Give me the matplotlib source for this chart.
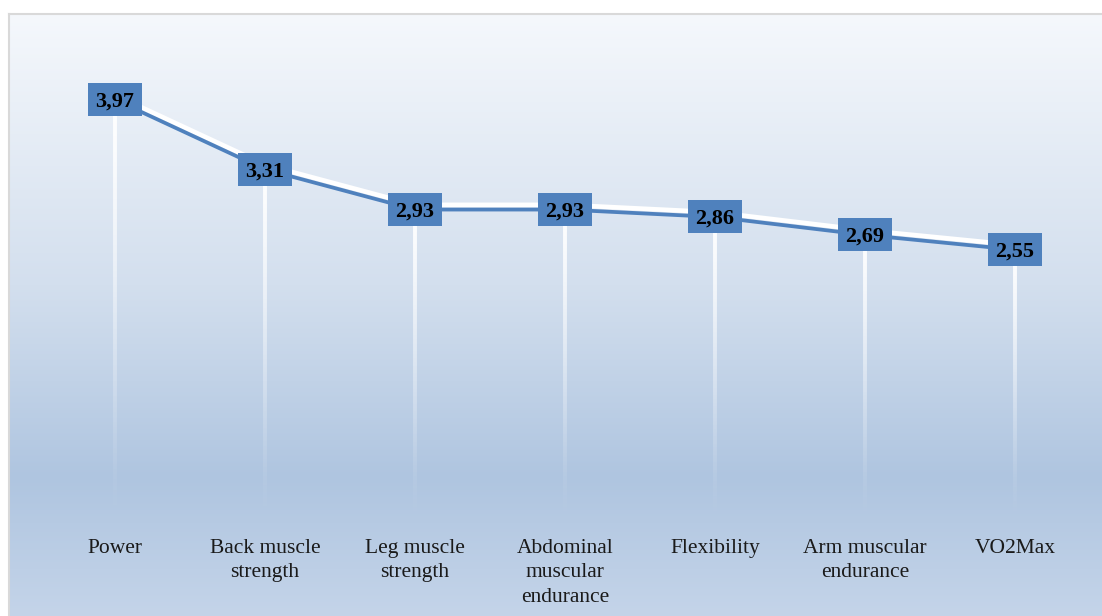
import numpy as np
import matplotlib
matplotlib.use("Agg")
import matplotlib.pyplot as plt
from matplotlib.colors import LinearSegmentedColormap
from matplotlib.collections import LineCollection
from matplotlib.patches import Rectangle
from matplotlib import transforms

# fitness component scores
categories = ["Power", "Back muscle\nstrength", "Leg muscle\nstrength",
              "Abdominal\nmuscular\nendurance", "Flexibility",
              "Arm muscular\nendurance", "VO2Max"]
values = [3.97, 3.31, 2.93, 2.93, 2.86, 2.69, 2.55]

BLUE = "#4F81BD"
SERIF = ["Liberation Serif", "DejaVu Serif"]

fig = plt.figure(figsize=(11.02, 6.16), dpi=100)
fig.patch.set_facecolor("white")
ax = fig.add_axes([9 / 1102, 0, 1093 / 1102, 602 / 616])

x = np.arange(len(values))
xlim = (-0.707, 6.58)
ylim = (-0.919, 4.782)
ax.set_xlim(*xlim)
ax.set_ylim(*ylim)

# background gradient, light at the top, darker blue near the base
bg = LinearSegmentedColormap.from_list(
    "bg", [(0.0, "#F5F8FC"), (0.45, "#D3DFEE"), (0.77, "#AFC5E0"), (1.0, "#C4D4E9")])
grad = np.linspace(0, 1, 256).reshape(-1, 1)
ax.imshow(grad, cmap=bg, aspect="auto", extent=[xlim[0], xlim[1], ylim[0], ylim[1]],
          origin="upper", zorder=0, interpolation="bicubic")

# white drop lines fading out toward zero
for xi, v in zip(x, values):
    ys = np.linspace(v, 0.08, 80)
    segs = [[(xi, ys[k]), (xi, ys[k + 1])] for k in range(len(ys) - 1)]
    alpha = np.clip((ys[:-1] / v), 0, 1) ** 1.3
    cols = [(1, 1, 1, a) for a in alpha]
    ax.add_collection(LineCollection(segs, colors=cols, linewidths=2.8, zorder=1))

# white highlight just above the main line
shadow = transforms.offset_copy(ax.transData, fig=fig, x=0, y=3.4, units="points")
ax.plot(x, values, color="white", lw=3.3, transform=shadow, zorder=2,
        solid_capstyle="butt")
ax.plot(x, values, color=BLUE, lw=2.7, zorder=3, solid_capstyle="butt")

# value boxes, fixed size in inches, centred on each point
for xi, v in zip(x, values):
    tr = fig.dpi_scale_trans + transforms.ScaledTranslation(xi, v, ax.transData)
    ax.add_patch(Rectangle((-0.27, -0.165), 0.54, 0.33, transform=tr,
                           fc=BLUE, ec="none", zorder=4))
    ax.annotate(f"{v:.2f}".replace(".", ","), (xi, v), xytext=(0, -5),
                textcoords="offset points", ha="center", va="baseline",
                fontsize=16, fontweight="bold", family=SERIF, color="black", zorder=5)

for xi, c in zip(x, categories):
    ax.annotate(c, (xi, 0), xytext=(0, -14.5), textcoords="offset points",
                ha="center", va="top", fontsize=15.5, family=SERIF,
                color="#1A1A1A", linespacing=1.38, zorder=4)

ax.set_xticks([])
ax.set_yticks([])
for s in ["right", "bottom"]:
    ax.spines[s].set_visible(False)
for s in ["left", "top"]:
    ax.spines[s].set_color("#D9D9D9")
    ax.spines[s].set_linewidth(1.5)

fig.savefig("out.png", dpi=100, facecolor="white")
